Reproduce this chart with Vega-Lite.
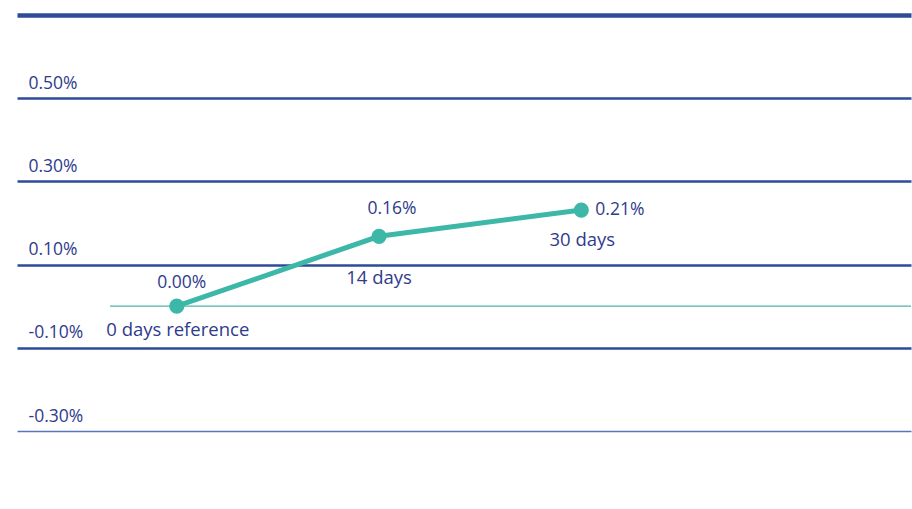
{
  "$schema": "https://vega.github.io/schema/vega-lite/v6.json",
  "width": 912,
  "height": 509,
  "autosize": {"type": "fit", "contains": "padding"},
  "padding": {"top": 15, "bottom": 78, "left": 17, "right": 0},
  "background": "white",
  "config": {"view": {"stroke": null}, "font": "Open Sans"},
  "datasets": {
    "pts": [
      {"idx": 0, "value": 0.0, "valueLabel": "0.00%", "dayLabel": "0 days reference"},
      {"idx": 1, "value": 0.168, "valueLabel": "0.16%", "dayLabel": "14 days"},
      {"idx": 2, "value": 0.231, "valueLabel": "0.21%", "dayLabel": "30 days"}
    ],
    "ref": [{"y": 0, "x": -0.33, "x2": 3.63}]
  },
  "layer": [
    {
      "data": {"name": "ref"},
      "mark": {"type": "rule", "color": "#4fb5a8", "strokeWidth": 1.3},
      "encoding": {
        "y": {"field": "y", "type": "quantitative", "scale": {"domain": [-0.3, 0.7], "nice": false, "zero": false},
          "axis": {
            "title": null, "domain": false, "ticks": false, "tickSize": 0, "labelPadding": -11,
            "labelOffset": -6,
            "values": [-0.3, -0.1, 0.1, 0.3, 0.5, 0.7],
            "labelExpr": "datum.value > 0.6 ? '' : (datum.value < 0 ? '-' : '') + format(abs(datum.value), '.2f') + '%'",
            "labelAlign": "left", "labelBaseline": "bottom",
            "labelFont": "Open Sans", "labelFontSize": 17.5, "labelColor": "#2f3b8d",
            "grid": true,
            "gridColor": {"condition": {"test": "datum.value < -0.2", "value": "#5a76b8"}, "value": "#2d4b99"},
            "gridWidth": {"condition": [{"test": "datum.value > 0.6", "value": 4.5}, {"test": "datum.value < -0.2", "value": 1.5}], "value": 2.5}
          }},
        "x": {"field": "x", "type": "quantitative", "scale": {"domain": [-0.79, 3.63], "nice": false, "zero": false}, "axis": null},
        "x2": {"field": "x2"}
      }
    },
    {
      "data": {"name": "pts"},
      "encoding": {
        "x": {"field": "idx", "type": "quantitative"},
        "y": {"field": "value", "type": "quantitative"}
      },
      "layer": [
        {"mark": {"type": "line", "color": "#3db8a8", "strokeWidth": 5}},
        {"mark": {"type": "point", "filled": true, "color": "#3db8a8", "size": 230, "opacity": 1}},
        {"transform": [{"filter": "datum.idx == 0"}], "mark": {"type": "text", "dy": -23, "dx": 5, "fontSize": 17.5, "color": "#2f3b8d"}, "encoding": {"text": {"field": "valueLabel"}}},
        {"transform": [{"filter": "datum.idx == 1"}], "mark": {"type": "text", "dy": -27, "dx": 13, "fontSize": 17.5, "color": "#2f3b8d"}, "encoding": {"text": {"field": "valueLabel"}}},
        {"transform": [{"filter": "datum.idx == 2"}], "mark": {"type": "text", "dx": 14, "align": "left", "fontSize": 17.5, "color": "#2f3b8d"}, "encoding": {"text": {"field": "valueLabel"}}},
        {"transform": [{"filter": "datum.idx == 0"}], "mark": {"type": "text", "dy": 24, "dx": 1, "fontSize": 18.5, "color": "#2f3b8d"}, "encoding": {"text": {"field": "dayLabel"}}},
        {"transform": [{"filter": "datum.idx == 1"}], "mark": {"type": "text", "dy": 42, "dx": 0, "fontSize": 18.5, "color": "#2f3b8d"}, "encoding": {"text": {"field": "dayLabel"}}},
        {"transform": [{"filter": "datum.idx == 2"}], "mark": {"type": "text", "dy": 30, "dx": 1, "fontSize": 18.5, "color": "#2f3b8d"}, "encoding": {"text": {"field": "dayLabel"}}}
      ]
    }
  ]
}
